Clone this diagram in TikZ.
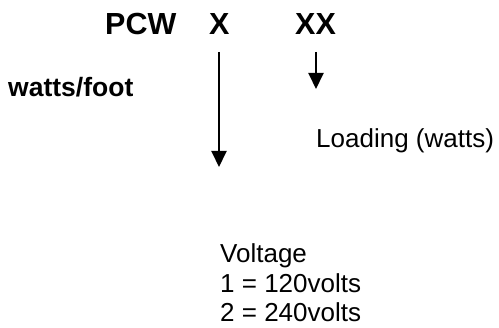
\documentclass[tikz,border=0pt]{standalone}
\usepackage{fontspec}
\setmainfont{Liberation Sans}
\usetikzlibrary{arrows.meta}
\begin{document}
\begin{tikzpicture}[x=1pt,y=-1pt,
  lbl/.style={anchor=base west,inner sep=0pt,font=\fontsize{26}{30}\selectfont},
  code/.style={anchor=base west,inner sep=0pt,font=\fontsize{30.5}{34}\selectfont\bfseries},
  boldlbl/.style={anchor=base west,inner sep=0pt,font=\fontsize{26.5}{30}\selectfont\bfseries},
  arr/.style={line width=2pt,-{Triangle[length=16pt,width=15pt]}}]
\useasboundingbox (0,0) rectangle (499,328);
\node[code] (pcw) at (105,35) {PCW};
\node[code] (x) at (209,35) {X};
\node[code] (xx) at (295,35) {XX};
\node[boldlbl] (wf) at (8,97) {watts/foot};
\node[lbl] (load) at (316,148) {Loading (watts)};
\node[lbl] (v1) at (220,263) {Voltage};
\node[lbl] (v2) at (220,293) {1 = 120volts};
\node[lbl] (v3) at (220,322) {2 = 240volts};
\coordinate (a1s) at (219,52);
\coordinate (a1e) at (219,167);
\coordinate (a2s) at (316,52);
\coordinate (a2e) at (316,89);
\draw[arr] (a1s) -- (a1e);
\draw[arr] (a2s) -- (a2e);
\end{tikzpicture}
\end{document}
